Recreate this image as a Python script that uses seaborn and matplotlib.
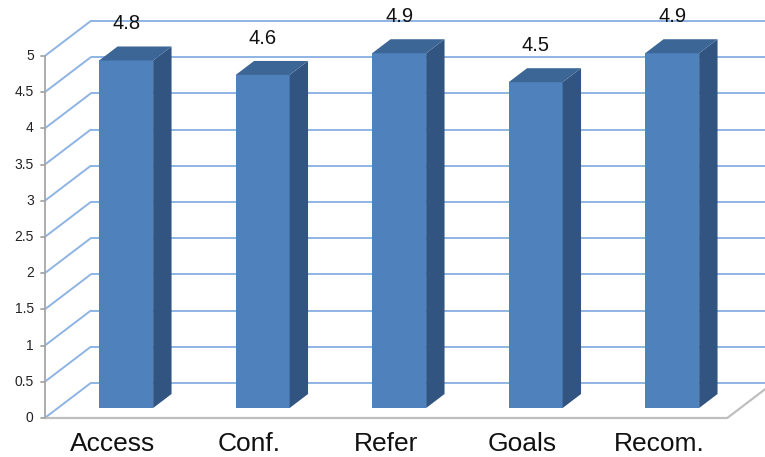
import matplotlib
matplotlib.use("Agg")
import matplotlib.pyplot as plt
from matplotlib.patches import Polygon
import seaborn as sns
import pandas as pd

# Survey scores per item
categories = ["Access", "Conf.", "Refer", "Goals", "Recom."]
scores = [4.8, 4.6, 4.9, 4.5, 4.9]
value_labels = ["4.8", "4.6", "4.9", "4.5", "4.9"]
y_ticks = [0, 0.5, 1, 1.5, 2, 2.5, 3, 3.5, 4, 4.5, 5]
y_tick_labels = ["0", "0.5", "1", "1.5", "2", "2.5", "3", "3.5", "4", "4.5", "5"]

sns.set_style("white")
plt.rcParams["font.family"] = ["Liberation Sans", "DejaVu Sans"]

FRONT = "#4F81BD"
SIDE = "#325480"
TOP = "#3C6696"
GRID = "#8EB4E3"
AXIS_GRAY = "#A6A6A6"
FLOOR_GRAY = "#BFBFBF"

# Oblique projection: data axes sit on the bars' front plane (depth D0);
# moving one unit in depth shifts by (KX, KY) in data units.
PX_X, PX_Y = 136.5, 72.4          # pixels per category / per value unit
KX, KY = 46 / PX_X, 35 / PX_Y
D0 = 10 / 35
BAR_DEPTH = 0.40
BAR_W = 54 / PX_X


def proj(c, v, d):
    return (c + (d - D0) * KX, v + (d - D0) * KY)


fig = plt.figure(figsize=(7.65, 4.57), dpi=100)
ax = fig.add_axes([0, 0, 1, 1])

df = pd.DataFrame({"item": categories, "score": scores})
sns.barplot(data=df, x="item", y="score", color=FRONT, saturation=1,
            width=BAR_W, linewidth=0, ax=ax)
for p in ax.patches:
    p.set_zorder(3)

c_lo, c_hi = -0.5, len(categories) - 0.5

# Back wall and left wall gridlines
for v in y_ticks:
    x0, y0 = proj(c_lo, v, 1)
    x1, y1 = proj(c_hi + 0.5, v, 1)
    ax.plot([x0, x1], [y0, y1], color=GRID, lw=1.4, zorder=1, solid_capstyle="butt")
    xa, ya = proj(c_lo, v, 0)
    ax.plot([xa, x0], [ya, y0], color=GRID, lw=1.4, zorder=1)

# Floor edges
fx0, fy0 = proj(c_lo, 0, 0)
fx1, fy1 = proj(c_hi, 0, 0)
bx1, by1 = proj(c_hi, 0, 1)
ax.plot([fx0, fx1], [fy0, fy1], color=FLOOR_GRAY, lw=1.6, zorder=2)
ax.plot([fx1, bx1], [fy1, by1], color=FLOOR_GRAY, lw=1.6, zorder=2)

# Vertical value axis with outward ticks
ax0, ay0 = proj(c_lo, 0, 0)
ax1, ay1 = proj(c_lo, 5, 0)
ax.plot([ax0, ax1], [ay0, ay1], color=AXIS_GRAY, lw=1.3, zorder=2)
for v, lab in zip(y_ticks, y_tick_labels):
    tx, ty = proj(c_lo, v, 0)
    ax.plot([tx - 4 / PX_X, tx], [ty, ty], color=AXIS_GRAY, lw=1.3, zorder=2)
    ax.text(tx - 11 / PX_X, ty, lab, ha="right", va="center", fontsize=10, color="#222222")

# Side and top faces of each bar
ddx, ddy = BAR_DEPTH * KX, BAR_DEPTH * KY
for i, v in enumerate(scores):
    left, right = i - BAR_W / 2, i + BAR_W / 2
    side = Polygon([(right, 0), (right, v), (right + ddx, v + ddy), (right + ddx, ddy)],
                   closed=True, facecolor=SIDE, edgecolor="none", zorder=3)
    top = Polygon([(left, v), (right, v), (right + ddx, v + ddy), (left + ddx, v + ddy)],
                  closed=True, facecolor=TOP, edgecolor="none", zorder=3)
    ax.add_patch(side)
    ax.add_patch(top)
    ax.annotate(value_labels[i], xy=(i, v), xytext=(0, 26.6), textcoords="offset points",
                ha="center", va="center", fontsize=14.5, color="#111111", zorder=4)

# Category labels under the floor
for i, name in enumerate(categories):
    lx, ly = proj(i, -33 / PX_Y, 0)
    ax.text(lx, ly, name, ha="center", va="baseline", fontsize=19, color="#111111")

ax.set_xlim(-126.14 / PX_X, (765 - 126.14) / PX_X)
ax.set_ylim((408 - 457) / PX_Y, 408 / PX_Y)
ax.axis("off")

fig.savefig("out.png", dpi=100)
